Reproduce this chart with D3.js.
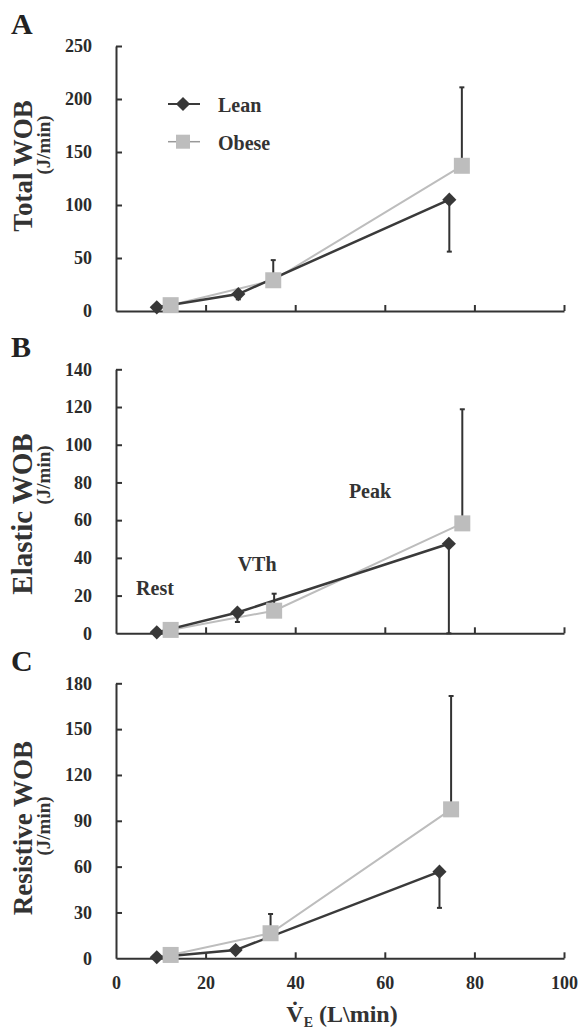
<!DOCTYPE html>
<html>
<head>
<meta charset="utf-8">
<script src="https://cdn.jsdelivr.net/npm/d3@7"></script>
<style>
  html, body { margin: 0; padding: 0; background: #fff; }
  svg { display: block; }
  text { font-family: "Liberation Serif", "Times New Roman", serif; font-weight: bold; fill: #333; }
</style>
</head>
<body>
<svg id="chart" width="582" height="1032"></svg>
<script>
// Minute ventilation axis
const veTicks = [0, 20, 40, 60, 80, 100];

// Panel A: total work of breathing (Rest, VTh, Peak)
const leanVE_A = [9.1, 27.3, 74.4];
const obeseVE_A = [12.2, 35.1, 77.2];
const leanTotal = [3.5, 16, 105];
const leanTotalSD = [0, 5, 49];
const obeseTotal = [5.5, 29, 137];
const obeseTotalSD = [0, 19, 74];
const totalTicks = [0, 50, 100, 150, 200, 250];

// Panel B: elastic work of breathing
const leanVE_B = [9.1, 27.1, 74.3];
const obeseVE_B = [12.2, 35.3, 77.3];
const leanElastic = [0.5, 11, 47.5];
const leanElasticSD = [0, 5, 47.5];
const obeseElastic = [1.8, 12, 58.3];
const obeseElasticSD = [0, 9, 60.5];
const elasticTicks = [0, 20, 40, 60, 80, 100, 120, 140];

// Panel C: resistive work of breathing
const leanVE_C = [9.1, 26.7, 72.2];
const obeseVE_C = [12.2, 34.5, 74.8];
const leanResistive = [0.7, 5.4, 56.7];
const leanResistiveSD = [0, 0, 23.7];
const obeseResistive = [2.2, 16.4, 97.5];
const obeseResistiveSD = [0, 12.6, 74.2];
const resistiveTicks = [0, 30, 60, 90, 120, 150, 180];

// Exercise stage labels (placed in panel B data space)
const stageNames = ["Rest", "VTh", "Peak"];
const stageVE = [8.7, 31.5, 56.7];
const stageY = [20.3, 33, 71.8];

const seriesNames = ["Lean", "Obese"];

const SERIF = '"Liberation Serif", "Times New Roman", serif';
const DARK = "#333";
const LIGHT = "#bdbdbd";

const svg = d3.select("#chart");

const x = d3.scaleLinear().domain([0, 100]).range([116, 564]);

const panels = [
  { letter: "A", title: "Total WOB", top: 46, bottom: 311, ticks: totalTicks,
    titleY: 166, unitY: 145, titleSize: 27,
    lean: { ve: leanVE_A, v: leanTotal, sd: leanTotalSD },
    obese: { ve: obeseVE_A, v: obeseTotal, sd: obeseTotalSD } },
  { letter: "B", title: "Elastic WOB", top: 369.3, bottom: 633.3, ticks: elasticTicks,
    titleY: 514, unitY: 475, titleSize: 29,
    lean: { ve: leanVE_B, v: leanElastic, sd: leanElasticSD },
    obese: { ve: obeseVE_B, v: obeseElastic, sd: obeseElasticSD } },
  { letter: "C", title: "Resistive WOB", top: 683.3, bottom: 958.3, ticks: resistiveTicks,
    titleY: 828, unitY: 826, titleSize: 27,
    lean: { ve: leanVE_C, v: leanResistive, sd: leanResistiveSD },
    obese: { ve: obeseVE_C, v: obeseResistive, sd: obeseResistiveSD } }
];

panels.forEach((p, i) => {
  const tickMax = p.ticks[p.ticks.length - 1];
  const y = d3.scaleLinear().domain([0, tickMax]).range([p.bottom, p.top]);
  const g = svg.append("g");

  // Panel letter
  g.append("text").attr("x", 11).attr("y", p.top - 12)
    .style("font-size", "30px").style("fill", "#222").text(p.letter);

  // Y axis
  const yAxis = d3.axisLeft(y).tickValues(p.ticks).tickSizeInner(-6).tickSizeOuter(0).tickPadding(24);
  const ya = g.append("g").attr("transform", `translate(${x(0)},0)`).call(yAxis);

  // X axis
  const xAxis = d3.axisBottom(x).tickValues(veTicks).tickSizeInner(-6).tickSizeOuter(0).tickPadding(18);
  const xa = g.append("g").attr("transform", `translate(0,${p.bottom})`).call(xAxis);
  if (i < 2) xa.selectAll("text").remove();

  [ya, xa].forEach(a => {
    a.attr("font-family", SERIF).attr("font-size", 18).attr("font-weight", "bold");
    a.selectAll("path.domain").attr("stroke", DARK).attr("stroke-width", 2);
    a.selectAll(".tick line").attr("stroke", DARK).attr("stroke-width", 2);
    a.selectAll(".tick text")
      .style("font-family", SERIF).style("font-size", "18px").style("font-weight", "bold")
      .style("fill", "#2b2b2b");
  });
  xa.selectAll(".tick").filter(d => d === 0).select("line").remove();
  ya.selectAll(".tick").filter(d => d === 0).select("line").remove();

  // Y axis title (two lines, rotated)
  g.append("text")
    .attr("transform", `translate(32,${p.titleY}) rotate(-90)`)
    .attr("text-anchor", "middle").style("font-size", p.titleSize + "px").text(p.title);
  g.append("text")
    .attr("transform", `translate(50,${p.unitY}) rotate(-90)`)
    .attr("text-anchor", "middle").style("font-size", "19px").text("(J/min)");

  const line = d3.line().x(d => x(d[0])).y(d => y(d[1]));
  const leanPts = p.lean.ve.map((v, k) => [v, p.lean.v[k], p.lean.sd[k]]);
  const obesePts = p.obese.ve.map((v, k) => [v, p.obese.v[k], p.obese.sd[k]]);

  // Connecting lines
  g.append("path").datum(obesePts).attr("d", line)
    .attr("fill", "none").attr("stroke", LIGHT).attr("stroke-width", 2);
  g.append("path").datum(leanPts).attr("d", line)
    .attr("fill", "none").attr("stroke", "#3a3a3a").attr("stroke-width", 2.5);

  // Error bars: lean downward, obese upward
  const drawErr = (pts, dir) => {
    const eg = g.append("g").attr("stroke", DARK).attr("stroke-width", 2);
    pts.filter(d => d[2] > 0).forEach(d => {
      const end = d[1] + dir * d[2];
      eg.append("line").attr("x1", x(d[0])).attr("x2", x(d[0]))
        .attr("y1", y(d[1])).attr("y2", y(end));
      eg.append("line").attr("x1", x(d[0]) - 2.5).attr("x2", x(d[0]) + 2.5)
        .attr("y1", y(end)).attr("y2", y(end));
    });
  };
  drawErr(leanPts, -1);
  drawErr(obesePts, 1);

  // Markers
  const diamond = d3.symbol().type(d3.symbolDiamond2).size(128);
  g.selectAll(".lean-pt").data(leanPts).join("path")
    .attr("transform", d => `translate(${x(d[0])},${y(d[1])})`)
    .attr("d", diamond).attr("fill", "#383838");
  g.selectAll(".obese-pt").data(obesePts).join("rect")
    .attr("x", d => x(d[0]) - 8).attr("y", d => y(d[1]) - 8)
    .attr("width", 16).attr("height", 16).attr("fill", LIGHT);

  // Legend (panel A)
  if (i === 0) {
    const lg = g.append("g");
    const rows = [104, 141.7];
    lg.append("line").attr("x1", 168).attr("x2", 200).attr("y1", rows[0]).attr("y2", rows[0])
      .attr("stroke", "#3a3a3a").attr("stroke-width", 2);
    lg.append("path").attr("transform", `translate(183,${rows[0]})`).attr("d", diamond).attr("fill", "#383838");
    lg.append("line").attr("x1", 168).attr("x2", 200).attr("y1", rows[1]).attr("y2", rows[1])
      .attr("stroke", "#999").attr("stroke-width", 1.5);
    lg.append("rect").attr("x", 176).attr("y", rows[1] - 7).attr("width", 14).attr("height", 14).attr("fill", LIGHT);
    seriesNames.forEach((n, k) => {
      lg.append("text").attr("x", 218).attr("y", rows[k] + 8).style("font-size", "20px").text(n);
    });
  }

  // Stage labels (panel B)
  if (i === 1) {
    stageNames.forEach((s, k) => {
      g.append("text").attr("x", x(stageVE[k])).attr("y", y(stageY[k]))
        .attr("text-anchor", "middle").style("font-size", "20px").text(s);
    });
  }
});

// X axis title: V-dot subscript E
const xt = svg.append("text").attr("x", 342).attr("y", 1022).attr("text-anchor", "middle")
  .style("font-size", "24px");
xt.append("tspan").text("V\u0307");
xt.append("tspan").attr("dy", 5).style("font-size", "14px").text("E");
xt.append("tspan").attr("dy", -5).text(" (L\\min)");
</script>
</body>
</html>
